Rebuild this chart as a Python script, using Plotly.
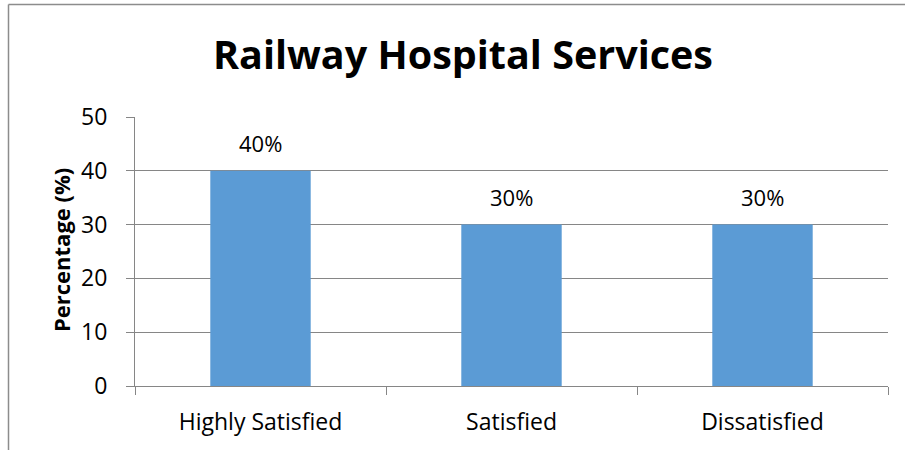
import plotly.graph_objects as go

categories = ["Highly Satisfied", "Satisfied", "Dissatisfied"]
values = [40, 30, 30]
labels = ["40%", "30%", "30%"]
y_ticks = [0, 10, 20, 30, 40, 50]

FONT = "Open Sans"
L, R, T, B = 135, 17, 117, 64
W, H = 905, 450
pw = W - L - R
ph = H - T - B

fig = go.Figure()
fig.add_trace(go.Bar(
    x=categories, y=values,
    marker=dict(color="#5B9BD5", line=dict(width=0)),
    hoverinfo="skip",
))

for c, v, t in zip(categories, values, labels):
    fig.add_annotation(x=c, y=v, text=t, showarrow=False, xref="x", yref="y",
                       yanchor="middle", yshift=28,
                       font=dict(family=FONT, size=22, color="#000000"))

# y-axis title placed at fixed pixel position
fig.add_annotation(text="<b>Percentage (%)</b>", textangle=-90, showarrow=False,
                   xref="paper", yref="paper",
                   x=(61 - L) / pw, y=(H - B - 250) / ph,
                   xanchor="center", yanchor="middle",
                   font=dict(family=FONT, size=22, color="#000000"))

# chart border (left & top)
fig.add_shape(type="line", xref="paper", yref="paper",
              x0=(8.5 - L) / pw, x1=(8.5 - L) / pw,
              y0=(H - B - 470) / ph, y1=(H - B - 4.5) / ph,
              line=dict(color="#8c8c8c", width=1.5))
fig.add_shape(type="line", xref="paper", yref="paper",
              x0=(8.5 - L) / pw, x1=(920 - L) / pw,
              y0=(H - B - 4.5) / ph, y1=(H - B - 4.5) / ph,
              line=dict(color="#8c8c8c", width=1.5))

fig.update_layout(
    width=W, height=H,
    margin=dict(l=L, r=R, t=T, b=B, autoexpand=False),
    paper_bgcolor="white", plot_bgcolor="white",
    bargap=0.6,
    showlegend=False,
    title=dict(text="<b>Railway Hospital Services</b>",
               x=(463 - L) / pw, xref="paper", xanchor="center",
               y=1 - 55 / H, yref="container", yanchor="middle",
               font=dict(family=FONT, size=39.5, color="#000000")),
    font=dict(family=FONT, color="#000000"),
)
fig.update_xaxes(
    automargin=False,
    showgrid=False, showline=True, linecolor="#868686", linewidth=1,
    ticks="outside", tickson="boundaries", ticklen=8, tickcolor="#868686",
    tickfont=dict(family=FONT, size=23, color="#000000"),
    ticklabelstandoff=15,
)
fig.update_yaxes(
    automargin=False,
    range=[0, 50], tickvals=y_ticks,
    showgrid=True, gridcolor="#868686", gridwidth=1,
    showline=True, linecolor="#868686", linewidth=1,
    ticks="outside", ticklen=8, tickcolor="#868686",
    tickfont=dict(family=FONT, size=23, color="#000000"),
    ticklabelstandoff=14,
    zeroline=False,
)

fig.write_html("out.html",
               config={"displayModeBar": False},
               post_script="document.body.style.margin='0';document.body.style.overflow='hidden';")
